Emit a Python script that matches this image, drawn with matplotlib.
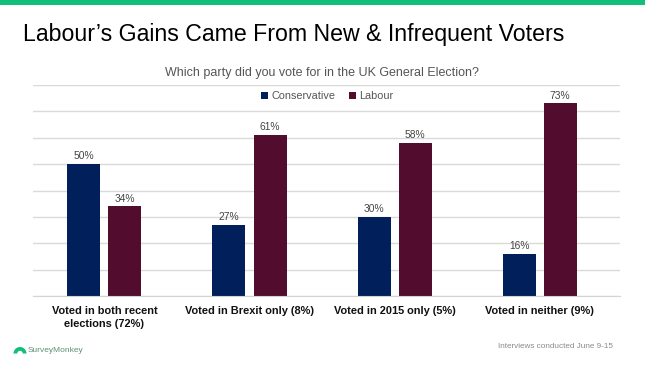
import matplotlib
matplotlib.use('Agg')
import matplotlib.pyplot as plt
import numpy as np
from matplotlib.patches import Rectangle, Wedge

plt.rcParams['font.family'] = ['Liberation Sans', 'DejaVu Sans']

# Data
categories = ['Voted in both recent\nelections (72%)', 'Voted in Brexit only (8%)',
              'Voted in 2015 only (5%)', 'Voted in neither (9%)']
conservative = [50, 27, 30, 16]
labour = [34, 61, 58, 73]

NAVY = '#011F5B'
MAROON = '#510C2E'
GREEN = '#12BF7A'
W, H = 645, 367

fig = plt.figure(figsize=(W / 100, H / 100), dpi=100)

# axes placed in pixels: x 33-620, y 85-296 from the top
ax = fig.add_axes([33 / W, 1 - 296 / H, 587 / W, 211 / H])
x = np.arange(len(categories))
ax.set_xlim(-0.493, 3.555)
ax.set_ylim(0, 80)
ax.set_axisbelow(True)
ax.yaxis.grid(True, color='#DADADA', linewidth=1)
ax.set_yticks(range(0, 90, 10))
ax.tick_params(left=False, bottom=False, labelleft=False)
for s in ['top', 'right', 'left']:
    ax.spines[s].set_visible(False)
ax.spines['bottom'].set_color('#D4D4D4')

bw = 33 / 145
off = 20.5 / 145
b1 = ax.bar(x - off, conservative, bw, color=NAVY, label='Conservative')
b2 = ax.bar(x + off, labour, bw, color=MAROON, label='Labour')
for bars, vals in ((b1, conservative), (b2, labour)):
    for r, v in zip(bars, vals):
        ax.annotate(f'{v}%', (r.get_x() + r.get_width() / 2, v), xytext=(0, 2),
                    textcoords='offset points', ha='center', va='bottom',
                    fontsize=7.4, color='#444444')

ax.set_xticks(x)
ax.set_xticklabels(categories, fontsize=7.9, fontweight='bold', color='#111111', linespacing=1.4)
ax.tick_params(axis='x', pad=3.5)

ax.legend(loc='upper center', bbox_to_anchor=(0.501, 1.01), ncol=2, frameon=False, fontsize=7.8,
          labelcolor='#555555', handlelength=0.65, handleheight=0.65, handletextpad=0.35,
          columnspacing=1.2, borderpad=0.25)

# Slide furniture
fig.add_artist(Rectangle((0, 1 - 5 / H), 1, 5 / H, transform=fig.transFigure, color=GREEN, lw=0))
fig.text(23 / W, 1 - 35 / H, 'Labour’s Gains Came From New & Infrequent Voters',
         fontsize=16.7, color='black', va='center', ha='left')
fig.text(322 / W, 1 - 73 / H, 'Which party did you vote for in the UK General Election?',
         fontsize=9, color='#555555', va='center', ha='center')
fig.text(28 / W, 16 / H, 'SurveyMonkey', fontsize=6, color='#5F8F75', va='center', ha='left')
fig.text(613 / W, 20 / H, 'Interviews conducted June 9-15', fontsize=5.9,
         color='#8A8A8A', va='center', ha='right')

# small logo mark
logo = fig.add_axes([13 / W, 1 - 355 / H, 14 / W, 10 / H])
logo.set_xlim(0, 14)
logo.set_ylim(0, 10)
logo.axis('off')
logo.add_patch(Wedge((7, 1.5), 6.5, 0, 180, width=3.8, color=GREEN, lw=0))

fig.savefig('out.png', dpi=100)
